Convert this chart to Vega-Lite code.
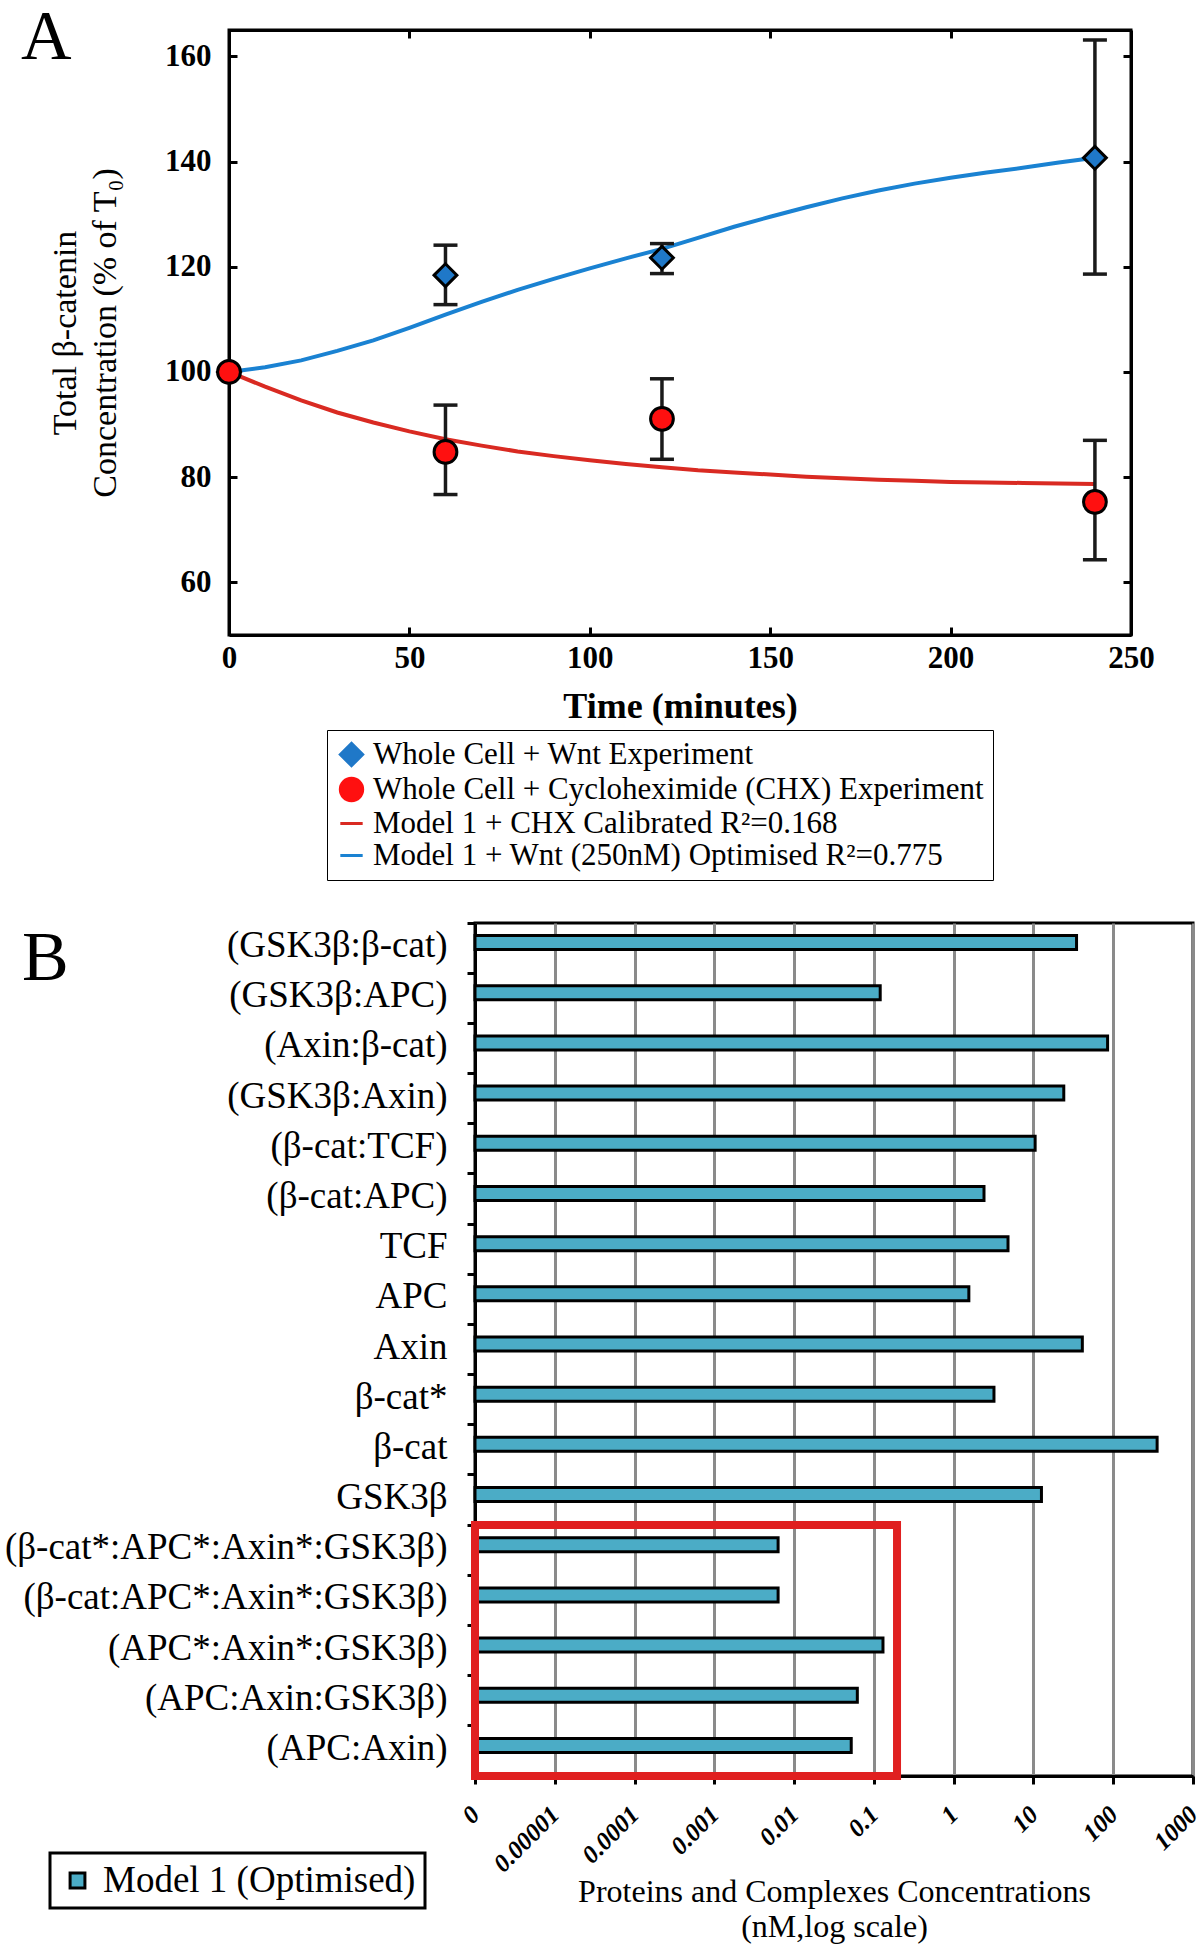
{
  "$schema": "https://vega.github.io/schema/vega-lite/v6.json",
  "background": "white",
  "padding": {"left": 2, "top": 1, "right": 0, "bottom": 0},
  "spacing": 38,
  "resolve": {"scale": {"color": "independent", "shape": "independent"}, "legend": {"color": "independent", "shape": "independent"}},
  "config": {
    "font": "Liberation Serif",
    "axis": {"labelFlush": false, "labelOverlap": false, "labelColor": "black", "titleColor": "black", "labelFont": "Liberation Serif", "titleFont": "Liberation Serif"},
    "title": {"color": "black", "font": "Liberation Serif", "fontWeight": "normal"}
  },
  "datasets": {
    "model": [
      {"series": "Model 1 + CHX Calibrated R²=0.168", "t": 0, "v": 100},
      {"series": "Model 1 + CHX Calibrated R²=0.168", "t": 10, "v": 97.2},
      {"series": "Model 1 + CHX Calibrated R²=0.168", "t": 20, "v": 94.6},
      {"series": "Model 1 + CHX Calibrated R²=0.168", "t": 30, "v": 92.3},
      {"series": "Model 1 + CHX Calibrated R²=0.168", "t": 40, "v": 90.4},
      {"series": "Model 1 + CHX Calibrated R²=0.168", "t": 50, "v": 88.7},
      {"series": "Model 1 + CHX Calibrated R²=0.168", "t": 60, "v": 87.2},
      {"series": "Model 1 + CHX Calibrated R²=0.168", "t": 70, "v": 86.0},
      {"series": "Model 1 + CHX Calibrated R²=0.168", "t": 80, "v": 84.9},
      {"series": "Model 1 + CHX Calibrated R²=0.168", "t": 90, "v": 84.0},
      {"series": "Model 1 + CHX Calibrated R²=0.168", "t": 100, "v": 83.2},
      {"series": "Model 1 + CHX Calibrated R²=0.168", "t": 110, "v": 82.5},
      {"series": "Model 1 + CHX Calibrated R²=0.168", "t": 120, "v": 81.9},
      {"series": "Model 1 + CHX Calibrated R²=0.168", "t": 130, "v": 81.3},
      {"series": "Model 1 + CHX Calibrated R²=0.168", "t": 140, "v": 80.9},
      {"series": "Model 1 + CHX Calibrated R²=0.168", "t": 150, "v": 80.5},
      {"series": "Model 1 + CHX Calibrated R²=0.168", "t": 160, "v": 80.1},
      {"series": "Model 1 + CHX Calibrated R²=0.168", "t": 170, "v": 79.8},
      {"series": "Model 1 + CHX Calibrated R²=0.168", "t": 180, "v": 79.5},
      {"series": "Model 1 + CHX Calibrated R²=0.168", "t": 190, "v": 79.3},
      {"series": "Model 1 + CHX Calibrated R²=0.168", "t": 200, "v": 79.1},
      {"series": "Model 1 + CHX Calibrated R²=0.168", "t": 210, "v": 79.0},
      {"series": "Model 1 + CHX Calibrated R²=0.168", "t": 220, "v": 78.9},
      {"series": "Model 1 + CHX Calibrated R²=0.168", "t": 230, "v": 78.8},
      {"series": "Model 1 + CHX Calibrated R²=0.168", "t": 240, "v": 78.7},
      {"series": "Model 1 + Wnt (250nM) Optimised R²=0.775", "t": 0, "v": 100},
      {"series": "Model 1 + Wnt (250nM) Optimised R²=0.775", "t": 10, "v": 100.9},
      {"series": "Model 1 + Wnt (250nM) Optimised R²=0.775", "t": 20, "v": 102.2},
      {"series": "Model 1 + Wnt (250nM) Optimised R²=0.775", "t": 30, "v": 104.0},
      {"series": "Model 1 + Wnt (250nM) Optimised R²=0.775", "t": 40, "v": 106.0},
      {"series": "Model 1 + Wnt (250nM) Optimised R²=0.775", "t": 50, "v": 108.4},
      {"series": "Model 1 + Wnt (250nM) Optimised R²=0.775", "t": 60, "v": 110.9},
      {"series": "Model 1 + Wnt (250nM) Optimised R²=0.775", "t": 70, "v": 113.3},
      {"series": "Model 1 + Wnt (250nM) Optimised R²=0.775", "t": 80, "v": 115.6},
      {"series": "Model 1 + Wnt (250nM) Optimised R²=0.775", "t": 90, "v": 117.7},
      {"series": "Model 1 + Wnt (250nM) Optimised R²=0.775", "t": 100, "v": 119.7},
      {"series": "Model 1 + Wnt (250nM) Optimised R²=0.775", "t": 110, "v": 121.6},
      {"series": "Model 1 + Wnt (250nM) Optimised R²=0.775", "t": 120, "v": 123.4},
      {"series": "Model 1 + Wnt (250nM) Optimised R²=0.775", "t": 130, "v": 125.5},
      {"series": "Model 1 + Wnt (250nM) Optimised R²=0.775", "t": 140, "v": 127.6},
      {"series": "Model 1 + Wnt (250nM) Optimised R²=0.775", "t": 150, "v": 129.5},
      {"series": "Model 1 + Wnt (250nM) Optimised R²=0.775", "t": 160, "v": 131.3},
      {"series": "Model 1 + Wnt (250nM) Optimised R²=0.775", "t": 170, "v": 133.0},
      {"series": "Model 1 + Wnt (250nM) Optimised R²=0.775", "t": 180, "v": 134.5},
      {"series": "Model 1 + Wnt (250nM) Optimised R²=0.775", "t": 190, "v": 135.8},
      {"series": "Model 1 + Wnt (250nM) Optimised R²=0.775", "t": 200, "v": 136.9},
      {"series": "Model 1 + Wnt (250nM) Optimised R²=0.775", "t": 210, "v": 137.9},
      {"series": "Model 1 + Wnt (250nM) Optimised R²=0.775", "t": 220, "v": 138.8},
      {"series": "Model 1 + Wnt (250nM) Optimised R²=0.775", "t": 230, "v": 139.8},
      {"series": "Model 1 + Wnt (250nM) Optimised R²=0.775", "t": 240, "v": 140.7}
    ],
    "obs": [
      {"series": "Whole Cell + Wnt Experiment", "t": 0, "v": 100},
      {"series": "Whole Cell + Wnt Experiment", "t": 60, "v": 118.4, "lo": 112.8, "hi": 124.1},
      {"series": "Whole Cell + Wnt Experiment", "t": 120, "v": 121.7, "lo": 118.7, "hi": 124.4},
      {"series": "Whole Cell + Wnt Experiment", "t": 240, "v": 140.7, "lo": 118.6, "hi": 163.1},
      {"series": "Whole Cell + Cycloheximide (CHX) Experiment", "t": 0, "v": 100},
      {"series": "Whole Cell + Cycloheximide (CHX) Experiment", "t": 60, "v": 84.8, "lo": 76.7, "hi": 93.7},
      {"series": "Whole Cell + Cycloheximide (CHX) Experiment", "t": 120, "v": 91.1, "lo": 83.4, "hi": 98.7},
      {"series": "Whole Cell + Cycloheximide (CHX) Experiment", "t": 240, "v": 75.3, "lo": 64.3, "hi": 87.0}
    ],
    "bars": [
      {"name": "(GSK3β:β-cat)", "value": 34.7, "model": "Model 1 (Optimised)"},
      {"name": "(GSK3β:APC)", "value": 0.12, "model": "Model 1 (Optimised)"},
      {"name": "(Axin:β-cat)", "value": 85, "model": "Model 1 (Optimised)"},
      {"name": "(GSK3β:Axin)", "value": 24, "model": "Model 1 (Optimised)"},
      {"name": "(β-cat:TCF)", "value": 10.5, "model": "Model 1 (Optimised)"},
      {"name": "(β-cat:APC)", "value": 2.4, "model": "Model 1 (Optimised)"},
      {"name": "TCF", "value": 4.8, "model": "Model 1 (Optimised)"},
      {"name": "APC", "value": 1.55, "model": "Model 1 (Optimised)"},
      {"name": "Axin", "value": 41, "model": "Model 1 (Optimised)"},
      {"name": "β-cat*", "value": 3.2, "model": "Model 1 (Optimised)"},
      {"name": "β-cat", "value": 355, "model": "Model 1 (Optimised)"},
      {"name": "GSK3β", "value": 12.6, "model": "Model 1 (Optimised)"},
      {"name": "(β-cat*:APC*:Axin*:GSK3β)", "value": 0.0063, "model": "Model 1 (Optimised)"},
      {"name": "(β-cat:APC*:Axin*:GSK3β)", "value": 0.0063, "model": "Model 1 (Optimised)"},
      {"name": "(APC*:Axin*:GSK3β)", "value": 0.13, "model": "Model 1 (Optimised)"},
      {"name": "(APC:Axin:GSK3β)", "value": 0.062, "model": "Model 1 (Optimised)"},
      {"name": "(APC:Axin)", "value": 0.052, "model": "Model 1 (Optimised)"}
    ],
    "box": [
      {"x0": 0.000001, "x1": 0.195, "r0": 12, "r1": 17}
    ]
  },
  "vconcat": [
    {
      "width": 902,
      "height": 605,
      "title": {"text": "A", "anchor": "start", "frame": "group", "orient": "top", "dx": -208, "offset": -100, "fontSize": 70, "baseline": "alphabetic"},
      "view": {"stroke": "black", "strokeWidth": 3},
      "layer": [
        {
          "data": {"name": "model"},
          "mark": {"type": "line", "strokeWidth": 4},
          "encoding": {
            "x": {"field": "t", "type": "quantitative",
              "scale": {"domain": [0, 250], "nice": false, "zero": false},
              "axis": {"orient": "bottom", "values": [0, 50, 100, 150, 200, 250], "labelFontWeight": "bold", "labelFontSize": 31, "labelPadding": 16, "tickSize": -8, "tickWidth": 3, "tickColor": "black", "domainColor": "black", "domainWidth": 3, "grid": false,
                "title": "Time (minutes)", "titleFontSize": 36, "titleFontWeight": "bold", "titlePadding": 16}},
            "y": {"field": "v", "type": "quantitative",
              "scale": {"domain": [50, 165], "nice": false, "zero": false},
              "axis": {"orient": "left", "values": [60, 80, 100, 120, 140, 160], "labelFontWeight": "bold", "labelFontSize": 31, "labelPadding": 26, "tickSize": -8, "tickWidth": 3, "tickColor": "black", "domainColor": "black", "domainWidth": 3, "grid": false,
                "title": ["Total β-catenin", "Concentration (% of T₀)"], "titleFontSize": 34, "titleFontWeight": "normal", "titleLineHeight": 40, "titlePadding": 42}},
            "color": {"field": "series", "type": "nominal",
              "scale": {"domain": ["Whole Cell + Wnt Experiment", "Whole Cell + Cycloheximide (CHX) Experiment", "Model 1 + CHX Calibrated R²=0.168", "Model 1 + Wnt (250nM) Optimised R²=0.775"],
                "range": ["#1f78c8", "#ff1010", "#d92a22", "#1a82d2"]}}
          }
        },
        {
          "data": {"name": "obs"},
          "transform": [{"filter": "isValid(datum.lo)"}],
          "mark": {"type": "rule", "strokeWidth": 3.5, "color": "#1a1a1a"},
          "encoding": {
            "x": {"field": "t", "type": "quantitative",
              "axis": {"orient": "top", "values": [50, 100, 150, 200], "labels": false, "tickSize": -8, "tickWidth": 3, "tickColor": "black", "domainColor": "black", "domainWidth": 3, "grid": false, "title": null}},
            "y": {"field": "lo", "type": "quantitative",
              "axis": {"orient": "right", "values": [60, 80, 100, 120, 140, 160], "labels": false, "tickSize": -8, "tickWidth": 3, "tickColor": "black", "domainColor": "black", "domainWidth": 3, "grid": false, "title": null}},
            "y2": {"field": "hi"}
          }
        },
        {
          "data": {"name": "obs"},
          "transform": [{"filter": "isValid(datum.lo)"}],
          "mark": {"type": "tick", "orient": "horizontal", "size": 24, "thickness": 3.5, "color": "#1a1a1a", "opacity": 1},
          "encoding": {
            "x": {"field": "t", "type": "quantitative", "axis": null},
            "y": {"field": "lo", "type": "quantitative", "axis": null}
          }
        },
        {
          "data": {"name": "obs"},
          "transform": [{"filter": "isValid(datum.hi)"}],
          "mark": {"type": "tick", "orient": "horizontal", "size": 24, "thickness": 3.5, "color": "#1a1a1a", "opacity": 1},
          "encoding": {
            "x": {"field": "t", "type": "quantitative", "axis": null},
            "y": {"field": "hi", "type": "quantitative", "axis": null}
          }
        },
        {
          "data": {"name": "obs"},
          "mark": {"type": "point", "filled": true, "stroke": "black", "strokeWidth": 3, "size": 520, "opacity": 1},
          "encoding": {
            "x": {"field": "t", "type": "quantitative", "axis": null},
            "y": {"field": "v", "type": "quantitative", "axis": null},
            "color": {"field": "series", "type": "nominal",
              "legend": {"orient": "none", "legendX": 98, "legendY": 700, "title": null, "strokeColor": "black", "fillColor": "white", "padding": 9,
                "labelFont": "Liberation Serif", "labelFontSize": 31, "labelColor": "black", "labelLimit": 900, "labelOffset": 6,
                "symbolSize": 500, "rowPadding": 0, "symbolStrokeWidth": 3,
                "encode": {
                  "legend": {"update": {"strokeWidth": {"value": 3}}},
                  "symbols": {"update": {
                  "shape": {"signal": "indexof(datum.value, 'Model') === 0 ? 'stroke' : (indexof(datum.value, 'Wnt') >= 0 ? 'diamond' : 'circle')"},
                  "fill": {"signal": "indexof(datum.value, 'Model') === 0 ? 'transparent' : (indexof(datum.value, 'Wnt') >= 0 ? '#1f78c8' : '#ff1010')"},
                  "stroke": {"signal": "indexof(datum.value, 'Model') === 0 ? (indexof(datum.value, 'Wnt') >= 0 ? '#1a82d2' : '#d92a22') : 'black'"},
                  "strokeWidth": {"signal": "indexof(datum.value, 'Model') === 0 ? 4 : 3"},
                  "size": {"signal": "indexof(datum.value, 'Model') === 0 ? 3200 : 480"},
                  "opacity": {"value": 1}
                }}}}},
            "shape": {"field": "series", "type": "nominal",
              "scale": {"domain": ["Whole Cell + Wnt Experiment", "Whole Cell + Cycloheximide (CHX) Experiment", "Model 1 + CHX Calibrated R²=0.168", "Model 1 + Wnt (250nM) Optimised R²=0.775"],
                "range": ["diamond", "circle", "stroke", "stroke"]}}
          }
        }
      ],
      "resolve": {"axis": {"x": "independent", "y": "independent"}}
    },
    {
      "hconcat": [
        {
          "width": 246,
          "height": 853,
          "view": {"stroke": null},
          "data": {"values": []},
          "mark": "point",
          "encoding": {}
        },
        {
          "width": 718,
          "height": 853,
          "title": {"text": "B", "anchor": "start", "frame": "group", "orient": "top", "dx": -453, "offset": -128, "fontSize": 70, "baseline": "alphabetic"},
          "view": {"stroke": "black", "strokeWidth": 3},
          "layer": [
            {
              "data": {"name": "bars"},
              "mark": {"type": "bar", "size": 14, "yOffset": -5.5, "stroke": "black", "strokeWidth": 3},
              "encoding": {
                "x": {"field": "value", "type": "quantitative",
                  "scale": {"type": "log", "domain": [0.000001, 1000], "nice": false},
                  "axis": {"orient": "bottom", "values": [0.000001, 0.00001, 0.0001, 0.001, 0.01, 0.1, 1, 10, 100, 1000], "format": ".5~f",
                    "labelAngle": -45, "labelAlign": "right", "labelBaseline": "middle", "labelFontWeight": "bold", "labelFontStyle": "italic", "labelFontSize": 25, "labelPadding": 26,
                    "tickSize": 8, "tickWidth": 3, "tickColor": "black", "domainColor": "black", "domainWidth": 3,
                    "grid": true, "gridColor": "#8a8a8a", "gridWidth": 3,
                    "title": ["Proteins and Complexes Concentrations", "(nM,log scale)"], "titleFontSize": 32, "titleFontWeight": "normal", "titleLineHeight": 35, "titlePadding": 0}},
                "x2": {"datum": 0.000001},
                "y": {"field": "name", "type": "nominal", "sort": null,
                  "scale": {"domain": ["(GSK3β:β-cat)", "(GSK3β:APC)", "(Axin:β-cat)", "(GSK3β:Axin)", "(β-cat:TCF)", "(β-cat:APC)", "TCF", "APC", "Axin", "β-cat*", "β-cat", "GSK3β", "(β-cat*:APC*:Axin*:GSK3β)", "(β-cat:APC*:Axin*:GSK3β)", "(APC*:Axin*:GSK3β)", "(APC:Axin:GSK3β)", "(APC:Axin)"], "paddingInner": 0, "paddingOuter": 0},
                  "axis": {"orient": "left", "labelFontSize": 37, "labelPadding": 20, "labelOffset": -2, "labelLimit": 700, "tickSize": 8, "tickWidth": 3, "tickColor": "black", "bandPosition": 0, "domainColor": "black", "domainWidth": 3, "grid": false, "title": null}},
                "color": {"field": "model", "type": "nominal", "scale": {"range": ["#4bacc6"]},
                  "legend": {"orient": "none", "legendX": -179, "legendY": 930, "title": null, "strokeColor": "black", "fillColor": "white", "padding": 9,
                    "labelFont": "Liberation Serif", "labelFontSize": 37, "labelColor": "black", "labelLimit": 700, "labelOffset": 7,
                    "symbolType": "square", "symbolSize": 220, "symbolStrokeColor": "black", "symbolStrokeWidth": 3,
                    "encode": {"legend": {"update": {"strokeWidth": {"value": 3}}}}}}
              }
            },
            {
              "data": {"name": "box"},
              "mark": {"type": "rect", "filled": false, "color": "#e02020", "strokeWidth": 8, "opacity": 1},
              "encoding": {
                "x": {"field": "x0", "type": "quantitative"},
                "x2": {"field": "x1"},
                "y": {"field": "r0", "type": "quantitative", "scale": {"domain": [0, 17], "reverse": true, "nice": false, "zero": false}, "axis": null},
                "y2": {"field": "r1"}
              }
            }
          ],
          "resolve": {"scale": {"y": "independent"}}
        }
      ],
      "spacing": 0,
      "bounds": "flush"
    }
  ]
}
